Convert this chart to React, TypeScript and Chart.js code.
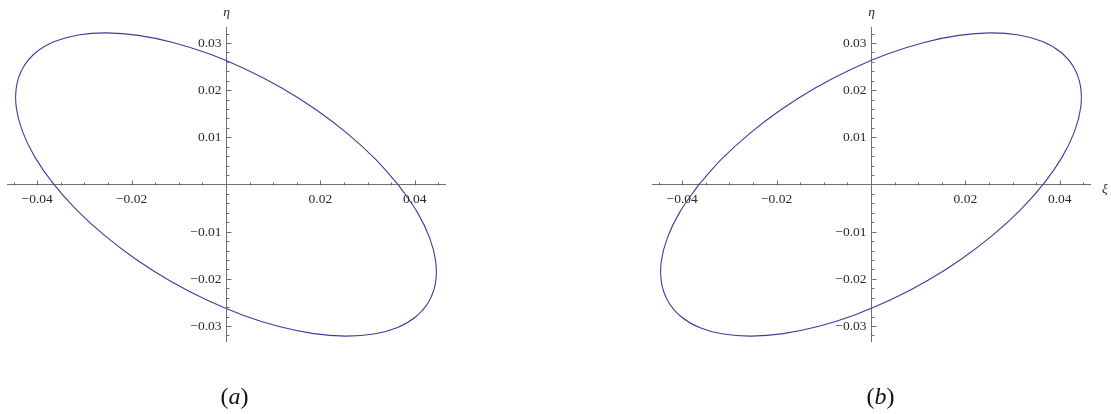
import React, { useEffect, useRef } from "react";
import { Chart, registerables } from "chart.js";

Chart.register(...registerables);

// ---------- data ----------
const xRange = [-0.0464, 0.0464];
const yRange = [-0.0333, 0.0333];

const xMajorTicks = [-0.04, -0.02, 0.02, 0.04];
const xMajorLabels = ["\u22120.04", "\u22120.02", "0.02", "0.04"];
const xMinorTicks = [
  -0.045, -0.035, -0.03, -0.025, -0.015, -0.01, -0.005, 0.005, 0.01, 0.015,
  0.025, 0.03, 0.035, 0.045,
];
const yMajorTicks = [-0.03, -0.02, -0.01, 0.01, 0.02, 0.03];
const yMajorLabels = ["\u22120.03", "\u22120.02", "\u22120.01", "0.01", "0.02", "0.03"];
const yMinorTicks = [
  -0.032, -0.028, -0.026, -0.024, -0.022, -0.018, -0.016, -0.014, -0.012,
  -0.008, -0.006, -0.004, -0.002, 0.002, 0.004, 0.006, 0.008, 0.012, 0.014,
  0.016, 0.018, 0.022, 0.024, 0.026, 0.028, 0.032,
];

// panel (a): ellipse tilted downward (closed loop, starts/ends on the xi-axis crossing)
const ellipseA_xi = [
  0.03668, 0.03172, 0.0258, 0.0191, 0.01182, 0.00417, -0.0036, -0.01126,
  -0.01858, -0.02533, -0.03131, -0.03635, -0.04028, -0.04298, -0.04438,
  -0.04443, -0.04313, -0.04052, -0.03668, -0.03172, -0.0258, -0.0191,
  -0.01182, -0.00417, 0.0036, 0.01126, 0.01858, 0.02533, 0.03131, 0.03635,
  0.04028, 0.04298, 0.04438, 0.04443, 0.04313, 0.04052, 0.03668,
];
const ellipseA_eta = [
  -0.00028, 0.00532, 0.01074, 0.01584, 0.02046, 0.02446, 0.02772, 0.03013,
  0.03163, 0.03216, 0.03172, 0.03032, 0.02799, 0.02482, 0.02088, 0.01632,
  0.01126, 0.00586, 0.00028, -0.00532, -0.01074, -0.01584, -0.02046,
  -0.02446, -0.02772, -0.03013, -0.03163, -0.03216, -0.03172, -0.03032,
  -0.02799, -0.02482, -0.02088, -0.01632, -0.01126, -0.00586, -0.00028,
];

// panel (b): ellipse tilted upward
const ellipseB_xi = [
  -0.03668, -0.03172, -0.0258, -0.0191, -0.01182, -0.00417, 0.0036, 0.01126,
  0.01858, 0.02533, 0.03131, 0.03635, 0.04028, 0.04298, 0.04438, 0.04443,
  0.04313, 0.04052, 0.03668, 0.03172, 0.0258, 0.0191, 0.01182, 0.00417,
  -0.0036, -0.01126, -0.01858, -0.02533, -0.03131, -0.03635, -0.04028,
  -0.04298, -0.04438, -0.04443, -0.04313, -0.04052, -0.03668,
];
const ellipseB_eta = [
  -0.00028, 0.00532, 0.01074, 0.01584, 0.02046, 0.02446, 0.02772, 0.03013,
  0.03163, 0.03216, 0.03172, 0.03032, 0.02799, 0.02482, 0.02088, 0.01632,
  0.01126, 0.00586, 0.00028, -0.00532, -0.01074, -0.01584, -0.02046,
  -0.02446, -0.02772, -0.03013, -0.03163, -0.03216, -0.03172, -0.03032,
  -0.02799, -0.02482, -0.02088, -0.01632, -0.01126, -0.00586, -0.00028,
];

// ---------- styles ----------
const AXIS_COLOR = "#707070";
const TEXT_COLOR = "#2a2a2a";
const CURVE_COLOR = "#3d3d99";
const SERIF = '"Liberation Serif", "DejaVu Serif", serif';

const axesPlugin = {
  id: "mmaAxes",
  afterDraw(chart: any, _args: any, opts: any) {
    const ctx = chart.ctx as CanvasRenderingContext2D;
    const xs = chart.scales.x;
    const ys = chart.scales.y;
    const area = chart.chartArea;
    const x0 = Math.round(xs.getPixelForValue(0)) + 0.5;
    const y0 = Math.round(ys.getPixelForValue(0)) + 0.5;
    ctx.save();
    ctx.strokeStyle = AXIS_COLOR;
    ctx.lineWidth = 1;
    ctx.beginPath();
    const xt = (v: number, len: number) => {
      const p = Math.round(xs.getPixelForValue(v)) + 0.5;
      ctx.moveTo(p, y0);
      ctx.lineTo(p, y0 - len);
    };
    const yt = (v: number, len: number) => {
      const p = Math.round(ys.getPixelForValue(v)) + 0.5;
      ctx.moveTo(x0, p);
      ctx.lineTo(x0 + len, p);
    };
    xMajorTicks.forEach((v) => xt(v, 5));
    xMinorTicks.forEach((v) => xt(v, 3));
    yMajorTicks.forEach((v) => yt(v, 5));
    yMinorTicks.forEach((v) => yt(v, 3));
    ctx.stroke();

    ctx.fillStyle = TEXT_COLOR;
    ctx.font = `13.5px ${SERIF}`;
    ctx.textAlign = "center";
    ctx.textBaseline = "middle";
    xMajorTicks.forEach((v, i) => {
      ctx.fillText(xMajorLabels[i], xs.getPixelForValue(v), y0 + 13.5);
    });
    ctx.textAlign = "right";
    yMajorTicks.forEach((v, i) => {
      ctx.fillText(yMajorLabels[i], x0 - 5, ys.getPixelForValue(v) + 0.5);
    });
    ctx.font = `italic 13.5px ${SERIF}`;
    ctx.textAlign = "center";
    ctx.fillText("\u03b7", x0, area.top - 15);
    if (opts && opts.showXi) {
      ctx.fillText("\u03be", area.right + 15, y0 + 4);
    }
    ctx.restore();
  },
};

type PanelProps = {
  xi: number[];
  eta: number[];
  left: number;
  width: number;
  padding: { left: number; right: number; top: number; bottom: number };
  showXi: boolean;
};

function Panel({ xi, eta, left, width, padding, showXi }: PanelProps) {
  const ref = useRef<HTMLCanvasElement | null>(null);
  useEffect(() => {
    if (!ref.current) return;
    const chart = new Chart(ref.current, {
      type: "scatter",
      data: {
        datasets: [
          {
            data: xi.map((x, i) => ({ x, y: eta[i] })),
            showLine: true,
            borderColor: CURVE_COLOR,
            borderWidth: 1.1,
            pointRadius: 0,
            tension: 0.35,
            fill: false,
          },
        ],
      },
      options: {
        animation: false,
        responsive: false,
        devicePixelRatio: 1,
        layout: { padding },
        plugins: {
          legend: { display: false },
          tooltip: { enabled: false },
          mmaAxes: { showXi },
        } as any,
        scales: {
          x: {
            type: "linear",
            min: xRange[0],
            max: xRange[1],
            position: { y: 0 } as any,
            grid: { display: true, drawOnChartArea: false, drawTicks: false },
            border: { display: true, color: AXIS_COLOR, width: 1 },
            ticks: { display: false },
          },
          y: {
            type: "linear",
            min: yRange[0],
            max: yRange[1],
            position: { x: 0 } as any,
            grid: { display: true, drawOnChartArea: false, drawTicks: false },
            border: { display: true, color: AXIS_COLOR, width: 1 },
            ticks: { display: false },
          },
        },
      },
      plugins: [axesPlugin],
    });
    return () => chart.destroy();
  }, []);
  return (
    <canvas
      ref={ref}
      width={width}
      height={414}
      style={{ position: "absolute", left, top: 0, width, height: 414 }}
    />
  );
}

const captionStyle = (center: number): React.CSSProperties => ({
  position: "absolute",
  left: center - 50,
  width: 100,
  top: 383,
  lineHeight: "26px",
  fontSize: 24,
  fontFamily: SERIF,
  textAlign: "center",
  color: "#111",
});

export default function App() {
  return (
    <div
      style={{
        position: "absolute",
        left: 0,
        top: 0,
        width: 1111,
        height: 414,
        background: "#fff",
        overflow: "hidden",
      }}
    >
      <Panel
        xi={ellipseA_xi}
        eta={ellipseA_eta}
        left={0}
        width={555}
        padding={{ left: 7, right: 110, top: 27.5, bottom: 72.5 }}
        showXi={false}
      />
      <Panel
        xi={ellipseB_xi}
        eta={ellipseB_eta}
        left={555}
        width={556}
        padding={{ left: 97, right: 21, top: 27.5, bottom: 72.5 }}
        showXi={true}
      />
      <div style={captionStyle(234.5)}>
        (<i>a</i>)
      </div>
      <div style={captionStyle(880.5)}>
        (<i>b</i>)
      </div>
    </div>
  );
}
